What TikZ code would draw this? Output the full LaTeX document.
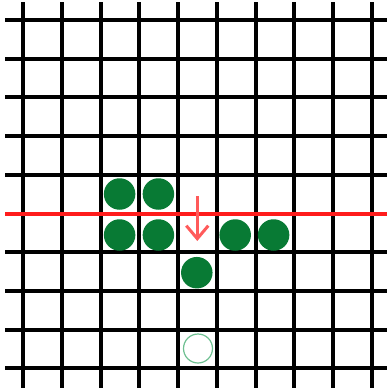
\documentclass[tikz,border=0pt]{standalone}
\usetikzlibrary{arrows.meta}
\definecolor{dotgreen}{RGB}{8,122,52}
\definecolor{ringgreen}{RGB}{110,192,145}
\definecolor{cutred}{RGB}{255,28,28}
\definecolor{arrowred}{RGB}{255,90,90}
\tikzset{
  gridline/.style={black,line width=4pt},
  cutline/.style={cutred,line width=4pt},
  stone/.style={circle,fill=dotgreen,draw=none,minimum size=31.5pt,inner sep=0pt},
  ghost/.style={circle,draw=ringgreen,line width=1.2pt,fill=none,minimum size=29pt,inner sep=0pt},
  droparrow/.style={arrowred,line width=3pt,-{Straight Barb[length=13pt,width=22pt,line width=3pt]}}
}
\begin{document}
\begin{tikzpicture}[x=1pt,y=-1pt]
\useasboundingbox[fill=white] (0,0) rectangle (387,388);
% vertical grid lines
\foreach \i in {0,...,9}{
  \draw[gridline] ({23.3+38.7*\i},2) -- ({23.3+38.7*\i},388);
}
% horizontal grid lines
\foreach \j in {0,...,9}{
  \draw[gridline] (5,{20+38.7*\j}) -- (387,{20+38.7*\j});
}
% red line
\draw[cutline] (5,214.3) -- (387,214.3);
% stones
\node[stone] (s1) at (119.6,194) {};
\node[stone] (s2) at (158.4,194) {};
\node[stone] (s3) at (119.6,235) {};
\node[stone] (s4) at (158.4,235) {};
\node[stone] (s5) at (235.2,235) {};
\node[stone] (s6) at (273.6,235) {};
\node[stone] (s7) at (196.8,272.7) {};
\node[ghost] (g1) at (198,348.5) {};
% arrow
\coordinate (a1) at (197.3,196);
\coordinate (a2) at (197.3,241);
\draw[droparrow] (a1) -- (a2);
\end{tikzpicture}
\end{document}
